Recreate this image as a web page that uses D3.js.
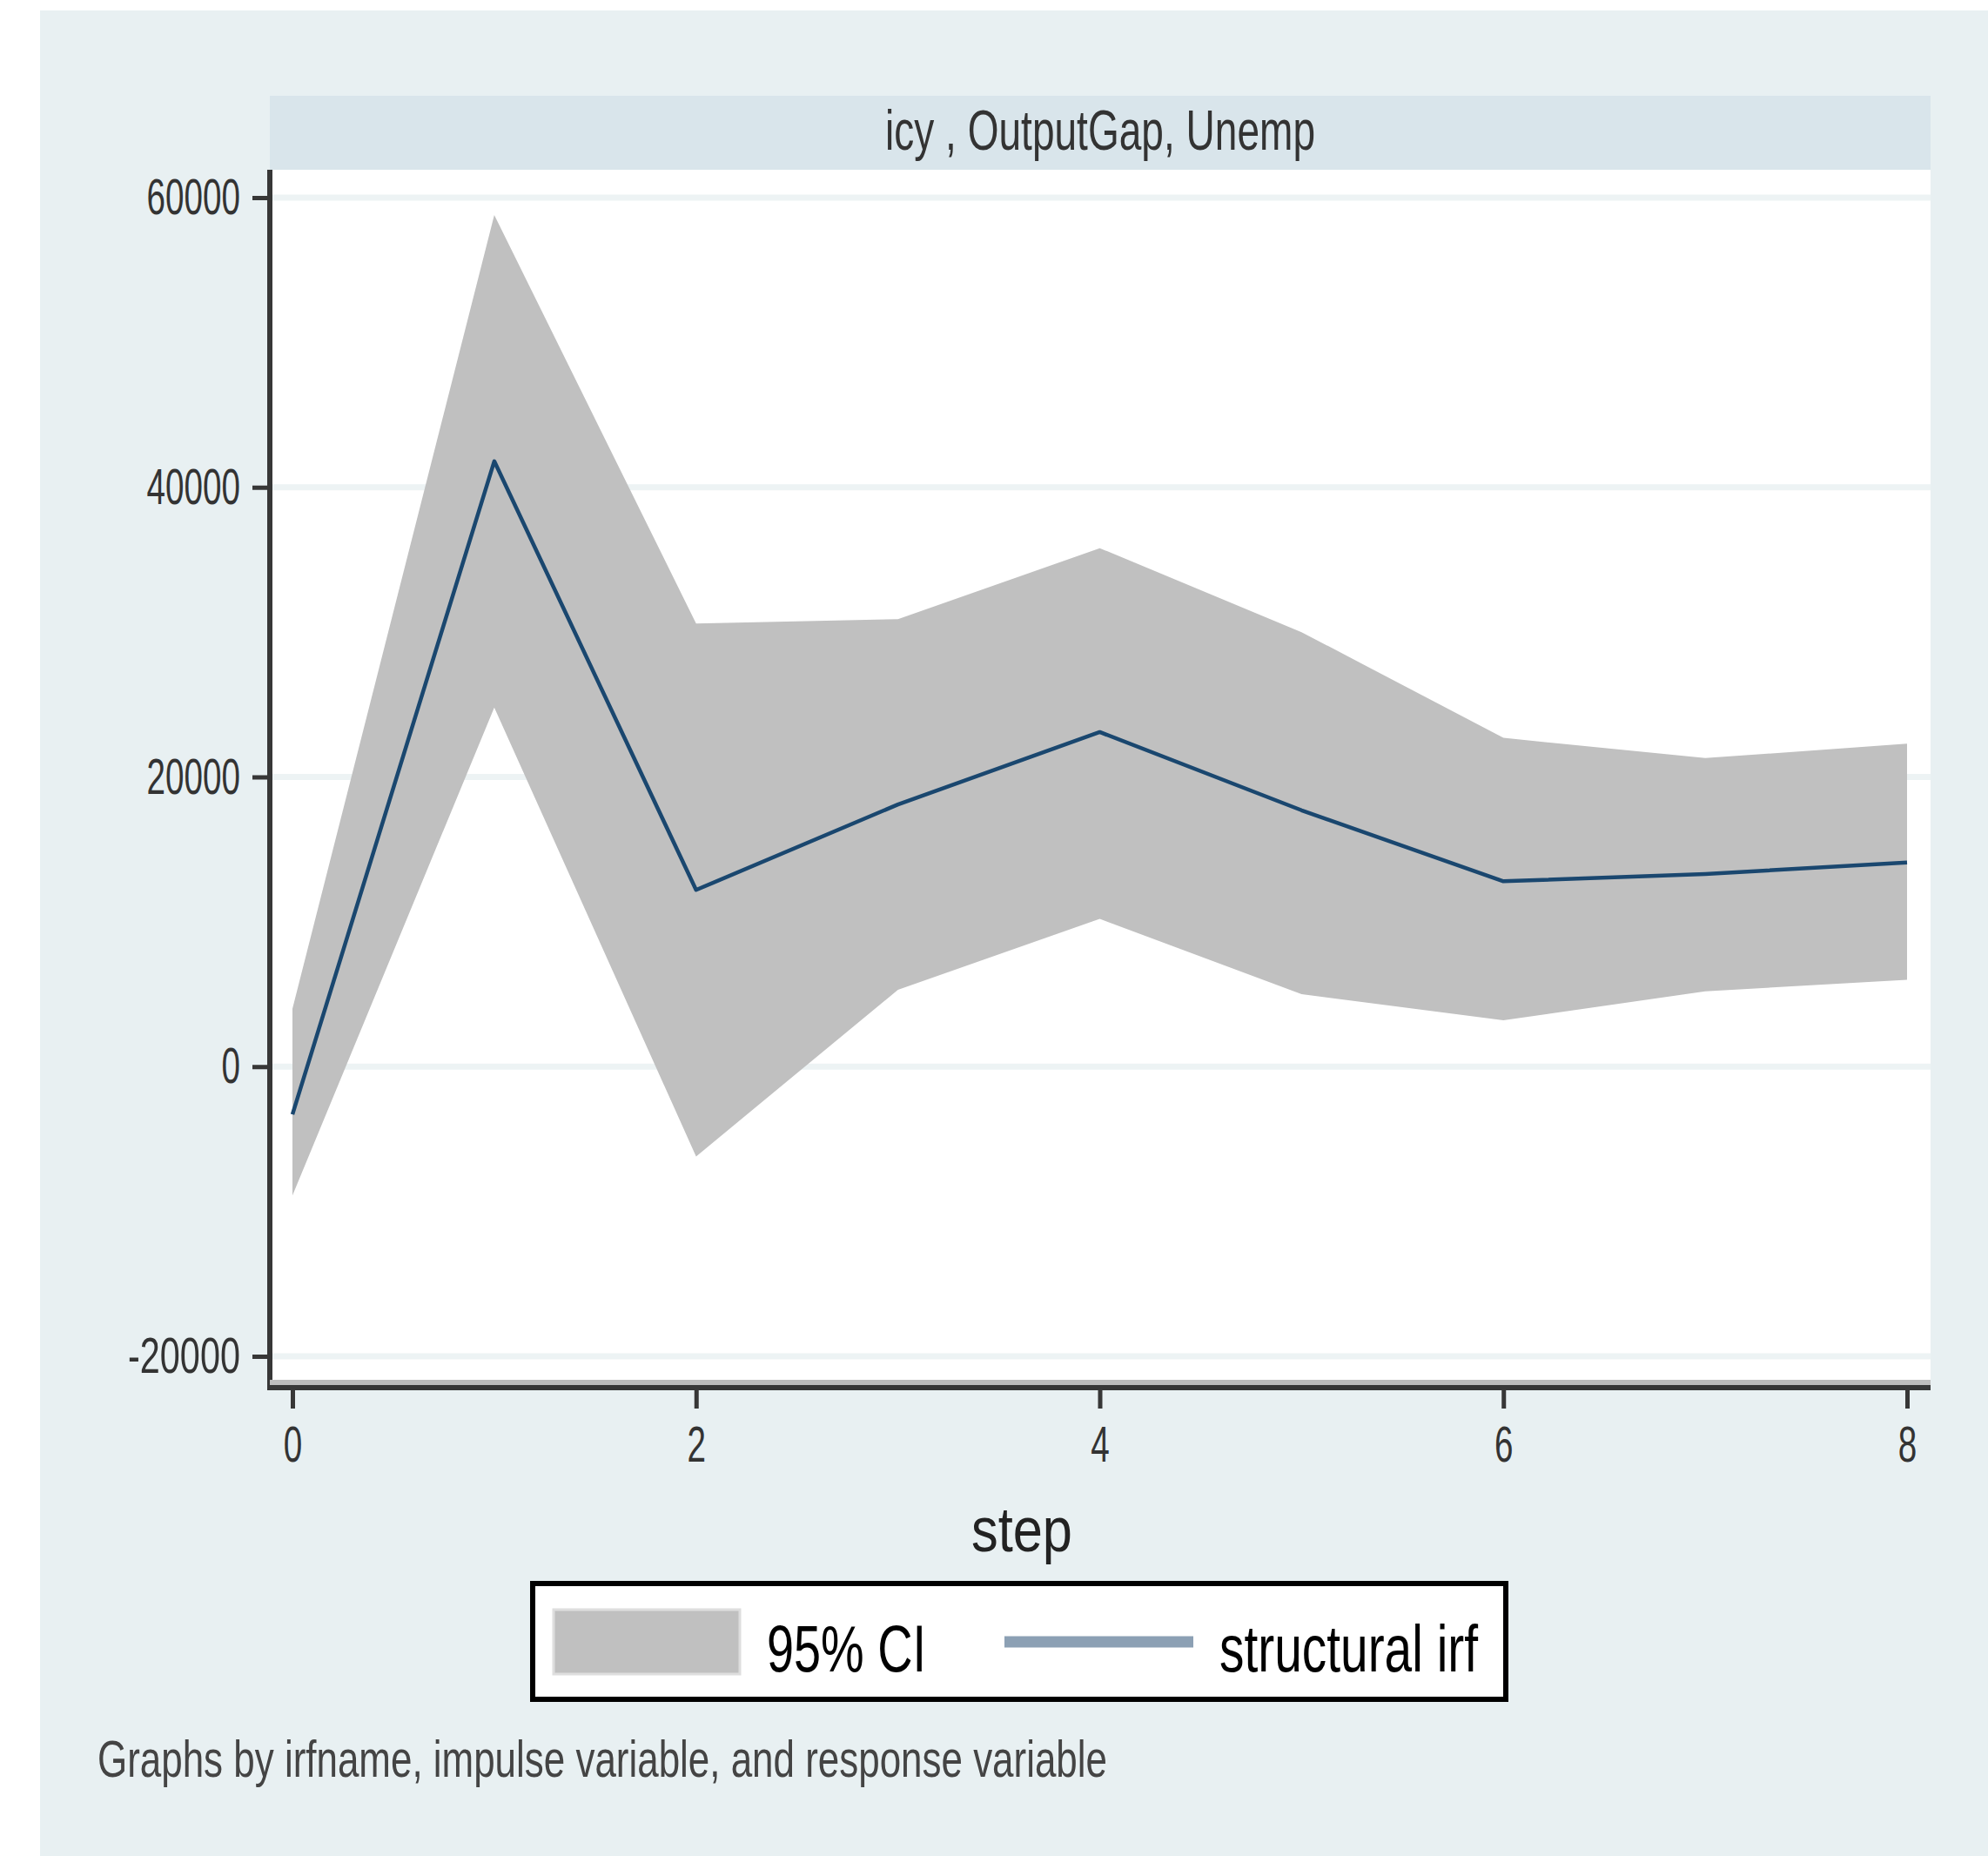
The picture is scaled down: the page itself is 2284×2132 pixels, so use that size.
<!DOCTYPE html>
<html>
<head>
<meta charset="utf-8">
<script src="https://cdn.jsdelivr.net/npm/d3@7"></script>
<style>
  html, body { margin: 0; padding: 0; background: #fff; }
  svg { display: block; font-family: "Liberation Sans", Arial, sans-serif; }
</style>
</head>
<body>
<svg id="chart" width="2284" height="2132"></svg>
<script>
var steps = [0, 1, 2, 3, 4, 5, 6, 7, 8];
var irfValues = [-3300, 41800, 12200, 18100, 23100, 17700, 12800, 13300, 14100];
var ciUpper = [4000, 58800, 30600, 30900, 35800, 30000, 22700, 21300, 22300];
var ciLower = [-8900, 24800, -6200, 5300, 10200, 5000, 3200, 5200, 6000];
var yTicks = [-20000, 0, 20000, 40000, 60000];
var xTicks = [0, 2, 4, 6, 8];
var panelTitle = 'icy , OutputGap, Unemp';
var xTitle = 'step';
var legendLabels = ['95% CI', 'structural irf'];
var noteText = 'Graphs by irfname, impulse variable, and response variable';

var BG_COLOR = '#e8f0f2';
var STRIP_COLOR = '#d9e5eb';
var GRID_COLOR = '#edf3f4';
var BAND_COLOR = '#c0c0c0';
var LINE_COLOR = '#1a476f';
var AXIS_COLOR = '#373737';

var plot = {left: 310, right: 2218, top: 195, bottom: 1594};

var svg = d3.select('#chart');

var x = d3.scaleLinear().domain([0, 8]).range([336, 2191]);
var y = d3.scaleLinear().domain([-20000, 60000]).range([1558, 227]);

// plain hyphen for negatives, like the original
var tickText = function (d) { return String(d); };

var data = steps.map(function (s, i) {
    return {step: s, irf: irfValues[i], lo: ciLower[i], hi: ciUpper[i]};
});

// outer graph region and panel strip
svg.append('rect').attr('x', 46).attr('y', 12).attr('width', 2284 - 46).attr('height', 2132 - 12)
    .attr('fill', BG_COLOR);
svg.append('rect').attr('x', plot.left).attr('y', 110).attr('width', plot.right - plot.left).attr('height', 85)
    .attr('fill', STRIP_COLOR);
svg.append('text').attr('x', (plot.left + plot.right) / 2).attr('y', 172)
    .attr('text-anchor', 'middle').attr('font-size', 65).attr('fill', '#333')
    .attr('textLength', 494).attr('lengthAdjust', 'spacingAndGlyphs')
    .text(panelTitle);

// plot region
svg.append('rect').attr('x', plot.left).attr('y', plot.top)
    .attr('width', plot.right - plot.left).attr('height', plot.bottom - plot.top)
    .attr('fill', '#fff');

svg.append('g').selectAll('line').data(yTicks).enter().append('line')
    .attr('x1', plot.left).attr('x2', plot.right)
    .attr('y1', y).attr('y2', y)
    .attr('stroke', GRID_COLOR).attr('stroke-width', 7);

var area = d3.area()
    .x(function (d) { return x(d.step); })
    .y0(function (d) { return y(d.lo); })
    .y1(function (d) { return y(d.hi); });
svg.append('path').datum(data).attr('d', area).attr('fill', BAND_COLOR);

var line = d3.line()
    .x(function (d) { return x(d.step); })
    .y(function (d) { return y(d.irf); });
svg.append('path').datum(data).attr('d', line)
    .attr('fill', 'none').attr('stroke', LINE_COLOR).attr('stroke-width', 4.5)
    .attr('stroke-linejoin', 'round');

// axes
var yAxis = svg.append('g').attr('transform', 'translate(' + plot.left + ',0)')
    .call(d3.axisLeft(y).tickValues(yTicks).tickSize(20).tickSizeOuter(0).tickPadding(14)
        .tickFormat(tickText));
var xAxis = svg.append('g').attr('transform', 'translate(0,' + plot.bottom + ')')
    .call(d3.axisBottom(x).tickValues(xTicks).tickSize(24).tickSizeOuter(0).tickPadding(20)
        .tickFormat(tickText));

[yAxis, xAxis].forEach(function (ax) {
    ax.select('.domain').remove();
    ax.selectAll('.tick line').attr('stroke', AXIS_COLOR).attr('stroke-width', 5);
    ax.selectAll('.tick text').attr('fill', '#333').attr('font-size', 58)
        .attr('font-family', '"Liberation Sans", Arial, sans-serif')
        .attr('lengthAdjust', 'spacingAndGlyphs')
        .attr('textLength', function (d) { return tickText(d).length * 21.5; });
});

svg.append('line').attr('x1', plot.left).attr('x2', plot.left)
    .attr('y1', plot.top).attr('y2', plot.bottom + 3)
    .attr('stroke', AXIS_COLOR).attr('stroke-width', 6);
svg.append('line').attr('x1', plot.left).attr('x2', plot.right)
    .attr('y1', plot.bottom - 6).attr('y2', plot.bottom - 6)
    .attr('stroke', '#bdbdbd').attr('stroke-width', 6);
svg.append('line').attr('x1', plot.left - 3).attr('x2', plot.right)
    .attr('y1', plot.bottom).attr('y2', plot.bottom)
    .attr('stroke', AXIS_COLOR).attr('stroke-width', 6);

svg.append('text').attr('x', 1174).attr('y', 1782)
    .attr('text-anchor', 'middle').attr('font-size', 72).attr('fill', '#222')
    .attr('textLength', 116).attr('lengthAdjust', 'spacingAndGlyphs')
    .text(xTitle);

// legend
var legend = svg.append('g');
legend.append('rect').attr('x', 612).attr('y', 1819).attr('width', 1118).attr('height', 133)
    .attr('fill', '#fff').attr('stroke', '#000').attr('stroke-width', 6);
legend.append('rect').attr('x', 636).attr('y', 1849).attr('width', 214).attr('height', 74)
    .attr('fill', BAND_COLOR).attr('stroke', '#dedede').attr('stroke-width', 3);
legend.append('line').attr('x1', 1154).attr('x2', 1371).attr('y1', 1886).attr('y2', 1886)
    .attr('stroke', '#8ca0b4').attr('stroke-width', 13);
legend.selectAll('text.lab').data(legendLabels).enter().append('text')
    .attr('class', 'lab')
    .attr('x', function (d, i) { return i === 0 ? 881 : 1401; })
    .attr('y', 1920).attr('font-size', 76).attr('fill', '#000')
    .attr('textLength', function (d, i) { return i === 0 ? 183 : 297; })
    .attr('lengthAdjust', 'spacingAndGlyphs')
    .text(function (d) { return d; });

svg.append('text').attr('x', 112).attr('y', 2041)
    .attr('font-size', 60).attr('fill', '#444')
    .attr('textLength', 1160).attr('lengthAdjust', 'spacingAndGlyphs')
    .text(noteText);
</script>
</body>
</html>
